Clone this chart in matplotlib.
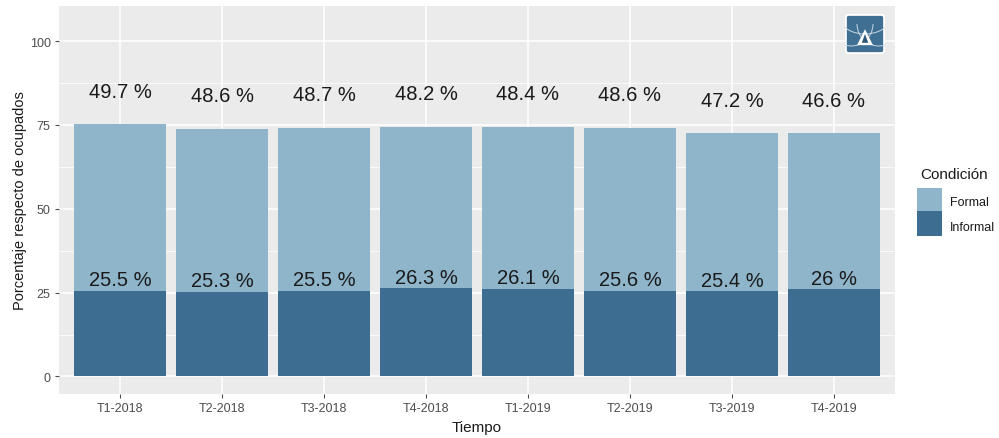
import numpy as np
import matplotlib.pyplot as plt
from matplotlib.patches import Rectangle, Arc, Polygon, FancyBboxPatch

plt.rcParams['font.family'] = ['Liberation Sans', 'DejaVu Sans']

periodos = ["T1-2018", "T2-2018", "T3-2018", "T4-2018",
            "T1-2019", "T2-2019", "T3-2019", "T4-2019"]
informal = [25.5, 25.3, 25.5, 26.3, 26.1, 25.6, 25.4, 26.0]
formal = [49.7, 48.6, 48.7, 48.2, 48.4, 48.6, 47.2, 46.6]
informal_lbl = ["25.5 %", "25.3 %", "25.5 %", "26.3 %", "26.1 %", "25.6 %", "25.4 %", "26 %"]
formal_lbl = ["49.7 %", "48.6 %", "48.7 %", "48.2 %", "48.4 %", "48.6 %", "47.2 %", "46.6 %"]

c_formal = "#8fb5cb"
c_informal = "#3d6d90"

W, H = 999, 439
fig = plt.figure(figsize=(W / 100, H / 100), dpi=100)
ax = fig.add_axes([59 / W, (H - 395) / H, (895 - 59) / W, (395 - 7) / H])
ax.set_facecolor("#ebebeb")

x = np.arange(1, len(periodos) + 1)
inf = np.array(informal)
frm = np.array(formal)
ax.bar(x, inf, width=0.9, color=c_informal, zorder=2)
ax.bar(x, frm, width=0.9, bottom=inf, color=c_formal, zorder=2)

for i in range(len(x)):
    ax.text(x[i], inf[i] + 3.3, informal_lbl[i], ha="center", va="center",
            fontsize=14.5, color="#1a1a1a", zorder=3)
    ax.text(x[i], inf[i] + frm[i] + 9.8, formal_lbl[i], ha="center", va="center",
            fontsize=14.5, color="#1a1a1a", zorder=3)

ax.set_xlim(0.4, 8.6)
ax.set_ylim(-5.25, 110.5)
ax.set_yticks([0, 25, 50, 75, 100])
ax.set_yticks([12.5, 37.5, 62.5, 87.5], minor=True)
ax.set_xticks(x)
ax.set_xticklabels(periodos)
ax.grid(which="major", color="white", lw=1.1, zorder=0)
ax.grid(which="minor", axis="y", color="white", lw=0.55, zorder=0)
ax.tick_params(which="major", length=3, color="#4d4d4d", labelsize=9, labelcolor="#4d4d4d", pad=3)
ax.tick_params(which="minor", length=0)
for s in ax.spines.values():
    s.set_visible(False)
ax.set_axisbelow(True)

ax.set_xlabel("Tiempo", fontsize=11, color="#1a1a1a", labelpad=4)
ax.set_ylabel("Porcentaje respecto de ocupados", fontsize=10.5, color="#1a1a1a", labelpad=2)

# legend
fig.text(920 / W, 1 - 175 / H, "Condición", fontsize=11, color="#1a1a1a", va="center", ha="left")
fig.patches.append(Rectangle((917 / W, 1 - 212 / H), 25 / W, 23 / H, transform=fig.transFigure,
                             facecolor=c_formal, edgecolor="none"))
fig.patches.append(Rectangle((917 / W, 1 - 237 / H), 25 / W, 25 / H, transform=fig.transFigure,
                             facecolor=c_informal, edgecolor="none"))
fig.text(950 / W, 1 - 203 / H, "Formal", fontsize=9, color="#1a1a1a", va="center", ha="left")
fig.text(950 / W, 1 - 228 / H, "Informal", fontsize=9, color="#1a1a1a", va="center", ha="left")

# logo
lax = fig.add_axes([845 / W, 1 - 55 / H, 40 / W, 40 / H])
lax.set_xlim(0, 1)
lax.set_ylim(0, 1)
lax.axis("off")
lax.add_patch(FancyBboxPatch((0.02, 0.02), 0.96, 0.96, boxstyle="round,pad=0,rounding_size=0.08",
                             facecolor="#3f6f93", edgecolor="white", lw=1.5))
lax.add_patch(Arc((0.15, 0.75), 1.1, 1.1, theta1=250, theta2=360, color="#c8d8e4", lw=0.7))
lax.add_patch(Arc((0.85, 0.75), 1.1, 1.1, theta1=180, theta2=290, color="#c8d8e4", lw=0.7))
lax.add_patch(Arc((0.5, 0.95), 1.3, 0.9, theta1=200, theta2=340, color="#c8d8e4", lw=0.7))
lax.add_patch(Polygon([[0.5, 0.62], [0.3, 0.22], [0.7, 0.22]], closed=True,
                      facecolor="white", edgecolor="none"))
lax.add_patch(Polygon([[0.5, 0.5], [0.42, 0.28], [0.58, 0.28]], closed=True,
                      facecolor="#2e5675", edgecolor="none"))

fig.savefig("out.png", dpi=100)
